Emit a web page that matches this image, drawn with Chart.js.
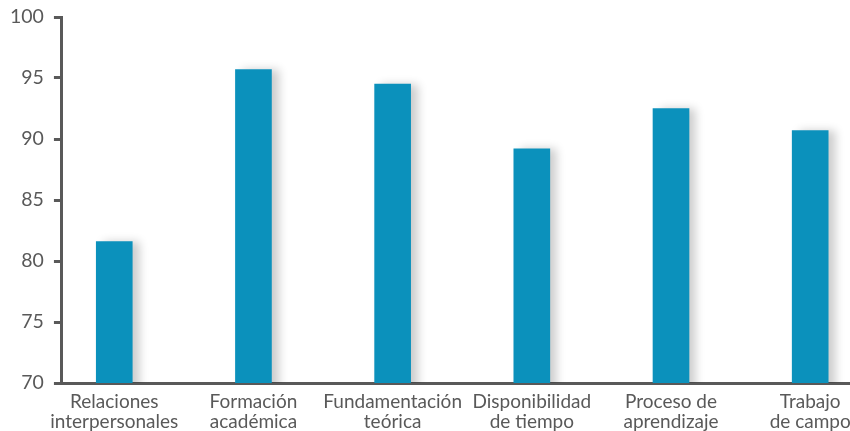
<!DOCTYPE html>
<html>
<head>
<meta charset="utf-8">
<script src="https://cdn.jsdelivr.net/npm/chart.js@4"></script>
<style>
  html, body { margin: 0; padding: 0; background: #ffffff; }
  #wrap { width: 850px; height: 431px; }
</style>
</head>
<body>
<div id="wrap"><canvas id="c" width="850" height="431"></canvas></div>
<script>
const categories = [
  ['Relaciones', 'interpersonales'],
  ['Formación', 'académica'],
  ['Fundamentación', 'teórica'],
  ['Disponibilidad', 'de tiempo'],
  ['Proceso de', 'aprendizaje'],
  ['Trabajo', 'de campo']
];
const values = [81.6, 95.7, 94.5, 89.2, 92.5, 90.7];
const yMin = 70, yMax = 100, yStep = 5;

const shadowPlugin = {
  id: 'barShadow',
  beforeDatasetsDraw(chart) {
    const ctx = chart.ctx;
    ctx.save();
    ctx.shadowColor = 'rgba(0,0,0,0.2)';
    ctx.shadowBlur = 9;
    ctx.shadowOffsetX = 7;
    ctx.shadowOffsetY = 0;
  },
  afterDatasetsDraw(chart) {
    chart.ctx.restore();
  }
};

Chart.defaults.font.family = 'Lato, "Open Sans", sans-serif';
Chart.defaults.color = '#595959';

new Chart(document.getElementById('c'), {
  type: 'bar',
  data: {
    datasets: [{
      data: values.map((v, i) => ({ x: i, y: v })),
      backgroundColor: '#0b91bc',
      borderWidth: 0,
      barThickness: 36
    }]
  },
  options: {
    responsive: false,
    animation: false,
    devicePixelRatio: 1,
    layout: { autoPadding: false, padding: { top: 17, left: 0, right: 0, bottom: 0 } },
    plugins: { legend: { display: false }, tooltip: { enabled: false } },
    scales: {
      x: {
        type: 'linear',
        offset: false,
        min: -0.376,
        max: 5.286,
        border: { display: true, color: '#595959', width: 3 },
        grid: { drawOnChartArea: false, drawTicks: false, offset: false },
        afterFit: (scale) => { scale.height = 48; scale.paddingLeft = 0; scale.paddingRight = 0; },
        ticks: {
          stepSize: 1,
          includeBounds: false,
          autoSkip: false,
          maxRotation: 0,
          padding: 9,
          font: { size: 19, lineHeight: 1.05 },
          color: '#595959',
          callback: (v) => Number.isInteger(v) && categories[v] ? categories[v] : ''
        }
      },
      y: {
        min: yMin,
        max: yMax,
        border: { display: true, color: '#595959', width: 3 },
        grid: { drawOnChartArea: false, drawTicks: true, tickLength: 8, tickColor: '#595959', tickWidth: 3 },
        afterFit: (scale) => { scale.paddingTop = 0; scale.paddingBottom = 0; },
        ticks: {
          stepSize: yStep,
          padding: 10,
          font: { size: 19.5 },
          color: '#595959'
        }
      }
    }
  },
  plugins: [shadowPlugin]
});
</script>
</body>
</html>
